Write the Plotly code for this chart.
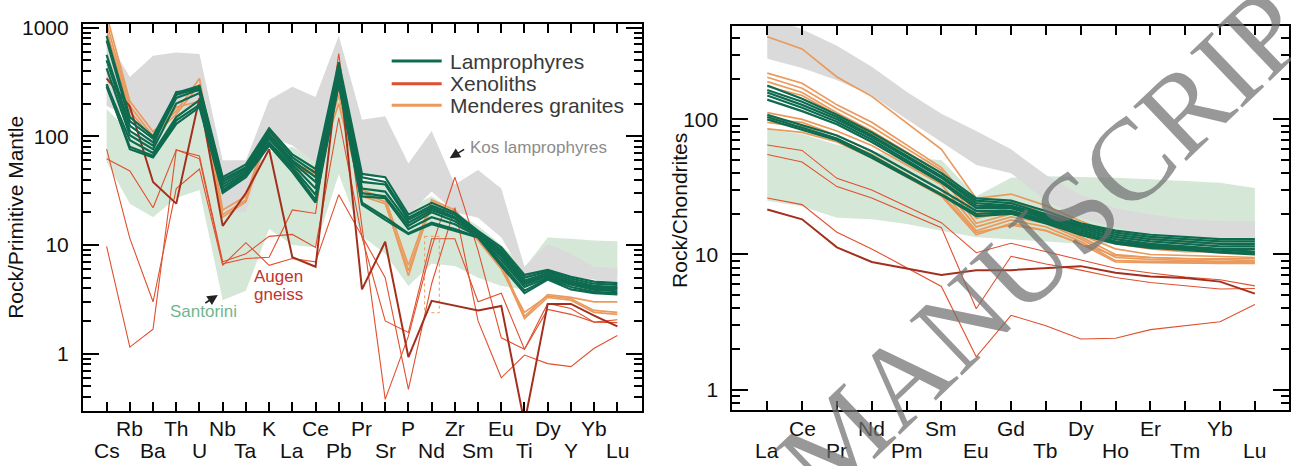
import plotly.graph_objects as go

W, H = 1291, 466

# ---------------------------------------------------------------- elements
SPIDER_ELEMENTS = ["Cs", "Rb", "Ba", "Th", "U", "Nb", "Ta", "K", "La", "Ce", "Pb", "Pr",
                   "Sr", "P", "Nd", "Zr", "Sm", "Eu", "Ti", "Dy", "Y", "Yb", "Lu"]
REE_ELEMENTS = ["La", "Ce", "Pr", "Nd", "Pm", "Sm", "Eu", "Gd", "Tb", "Dy", "Ho", "Er",
                "Tm", "Yb", "Lu"]

# ------------------------------------------- primitive-mantle normalised
KOS_PM_HI = [800, 350, 550, 590, 570, 60, 60, 215, 285, 230, 840, 142, 153, 56, 112, 36, 49, 33, 6.3, 10.2, 8.3, 6.3, 6.1]
KOS_PM_LO = [190, 150, 100, 170, 190, 20, 20, 100, 82, 57, 250, 45, 42, 19, 31, 20, 17.8, 11.7, 5.1, 5.9, 5.1, 4.8, 4.45]
SANT_PM_HI = [177, 110, 95, 190, 180, 30, 42, 70, 80, 60, 250, 40, 36, 22, 28, 20, 15, 10, 6.2, 11.7, 11.4, 11.0, 10.8]
SANT_PM_LO = [58, 24, 18, 27, 32, 3.1, 3.8, 14, 10, 9.5, 45, 12, 8.3, 4.2, 6.7, 6.4, 5.0, 4.2, 3.9, 5.5, 5.5, 5.4, 5.3]

LAMP_PM = [
    [840, 150, 100, 250, 290, 42, 55, 118, 68, 50, 480, 45, 42, 19, 24.4, 19.8, 13.5, 9.5, 5.3, 5.9, 5.1, 4.6, 4.45],
    [760, 138, 95, 240, 280, 40, 52, 112, 64, 46, 440, 42, 38, 17.8, 23, 19, 13.2, 9.0, 5.0, 5.7, 4.9, 4.4, 4.3],
    [560, 125, 88, 225, 270, 38, 50, 105, 60, 42, 400, 38, 36, 17, 22, 18, 12.8, 8.6, 4.7, 5.5, 4.7, 4.2, 4.1],
    [500, 112, 82, 255, 265, 36, 48, 100, 58, 38, 370, 33, 31, 16, 21, 17.5, 12.6, 8.2, 4.5, 5.3, 4.5, 4.1, 4.0],
    [420, 102, 76, 200, 250, 34, 46, 95, 55, 33, 340, 30, 28, 15, 20, 16.5, 12.3, 7.8, 4.3, 5.2, 4.4, 3.95, 3.9],
    [300, 92, 70, 150, 215, 32, 45, 88, 52, 29, 325, 28, 27, 14, 18, 15.5, 12, 7.3, 4.1, 5.0, 4.3, 3.85, 3.75],
    [285, 80, 66, 140, 195, 31, 44, 85, 50, 26, 310, 24.5, 18, 12.8, 16, 14, 11.8, 6.8, 3.8, 4.9, 4.1, 3.7, 3.6],
    [300, 76, 64, 130, 185, 30, 42, 82, 47, 24.5, 300, 23.5, 17, 12.6, 15.5, 13.5, 11.7, 6.4, 3.6, 4.8, 3.9, 3.6, 3.5],
]
GRAN_PM = [
    [1300, 210, 110, 170, 340, 21, 28, 120, 55, 48, 270, 32, 27, 6.5, 26, 21, 12, 6.8, 2.2, 3.5, 3.3, 3.0, 3.0],
    [1100, 190, 100, 160, 300, 19, 26, 115, 52, 46, 240, 30, 25, 5.2, 25, 20, 11.5, 6.3, 2.1, 3.3, 3.1, 2.4, 2.3],
    [950, 170, 95, 185, 210, 18, 25, 110, 50, 45, 200, 28, 24, 5.8, 23, 19, 11, 6.0, 2.4, 3.4, 3.2, 2.5, 2.4],
]
XENO_PM = [
    [9.7, 1.15, 1.68, 75, 62, 6.7, 7.5, 7.7, 21, 19.5, 575, 15, 0.38, 1.45, 9.5, 42, 8.9, 1.4, 1.1, 2.9, 2.6, 1.95, 2.05],
    [76, 11.5, 3.0, 33, 50, 6.5, 10.5, 6.5, 7.5, 7.0, 29, 12, 5.0, 0.47, 4.4, 22, 2.0, 0.6, 0.97, 0.81, 0.76, 1.12, 1.47],
    [62, 48, 22, 75, 66, 7.0, 8.3, 12, 12.5, 9.5, 148, 11.8, 2.0, 1.57, 11.4, 11.4, 3.0, 3.6, 1.1, 2.55, 2.3, 1.95, 1.93],
]
AUGEN_PM = [340, 188, 38, 24, 225, 15, 30, 76, 7.7, 6.3, 450, 3.9, 10.7, 0.93, 3.06, 2.75, 2.5, 2.75, 0.23, 2.87, 2.87, 2.24, 1.78]

# dotted frame around the Nd interval of the granites
NOTE_BOX_X = [13.7, 14.33, 14.33, 13.7, 13.7]
NOTE_BOX_Y = [12.0, 12.0, 2.38, 2.38, 12.0]

# ------------------------------------------------- chondrite normalised
KOS_REE_HI = [580, 465, 350, 245, 160, 110, 82, 60, 38.7, 27.7, 22, 19.8, 18.2, 17.7, 17.7]
KOS_REE_LO = [281, 240, 195, 150, 100, 68, 46, 40, 25, 18.7, 15.8, 14.2, 13.6, 13.4, 13.4]
SANT_REE_HI = [84, 78, 65, 58, 52, 50, 27, 37, 38, 37.5, 37, 36, 35, 34, 31]
SANT_REE_LO = [25, 22.7, 18.7, 18.2, 16.8, 15, 13.4, 13, 12.5, 12, 12, 12, 12, 12, 12]

LAMP_REE = [
    [178, 142, 108, 80, None, 40, 26, 25, 21, 17, 15, 14, 13.5, 13, 13],
    [165, 135, 104, 76, None, 38, 25, 24, 20, 16.5, 14.5, 13.5, 13, 12.5, 12.5],
    [158, 128, 100, 74, None, 37, 24, 23, 19.5, 16, 14, 13, 12.5, 12, 12],
    [150, 122, 96, 71, None, 35, 23, 22.5, 19, 15.5, 13.5, 12.5, 12, 11.5, 11.5],
    [140, 115, 92, 68, None, 34, 22, 22, 18.5, 15, 13, 12, 11.5, 11, 11],
    [108, 90, 76, 58, None, 30, 21, 21, 18, 14.5, 12.5, 11.7, 11.2, 10.8, 10.5],
    [104, 86, 72, 54, None, 28, 20, 20.5, 17.5, 14, 12.2, 11.5, 11, 10.5, 10.2],
    [100, 84, 70, 52, None, 27.5, 19.2, 20, 17, 14, 12, 11.2, 10.8, 10.3, 10],
]
GRAN_REE = [
    [408, 332, 206, 148, None, 60, 26, 28, 23, 17.7, 14, 13, 12.5, 12, 11.5],
    [220, 185, 128, 95, None, 44, 22, 24, 21, 16, 13, 12, 11.5, 11, 10.5],
    [205, 170, 120, 88, None, 42, 20, 22, 20, 15, 12, 11, 10.5, 10.5, 10],
    [190, 158, 112, 82, None, 40, 18.5, 21, 19, 14, 11, 10, 9.8, 9.7, 9.5],
    [175, 150, 108, 78, None, 38, 17, 20, 18, 13.5, 10, 9.5, 9.3, 9.2, 9.0],
    [112, 100, 82, 64, None, 33, 16, 19, 17, 13, 9.5, 9.2, 9.0, 8.9, 8.8],
    [100, 95, 76, 58, None, 30, 15, 18, 16, 12.5, 9.0, 8.9, 8.8, 8.7, 8.7],
    [85, 80, 68, 52, None, 27, 14, 17, 15, 12, 8.8, 8.7, 8.6, 8.6, 8.6],
    [95, 88, 72, 55, None, 28, 14.5, 16.5, 15, 12, 9.8, 9.5, 9.3, 9.3, 9.3],
]
XENO_REE = [
    [64.5, 58.9, 36.6, 30, None, 17.2, 10.3, 12.1, 10.5, 9.2, 7.9, 7.3, 6.8, 6.5, 5.86],
    [54.9, 48.4, 31.8, 26.2, None, 15.8, 3.97, 9.7, 8.5, 7.66, 6.75, 6.2, 5.9, 5.55, 5.6],
    [26.2, 23.4, 14.6, 11, None, 5.8, 1.75, 3.55, 2.97, 2.37, 2.4, 2.78, 2.97, 3.18, 4.26],
]
AUGEN_REE = [21.5, 18.2, 11.3, 8.8, None, 7.05, 7.66, 7.66, 7.9, 8.2, 7.33, 6.86, 6.7, 6.3, 5.13]

# ---------------------------------------------------------------- styling
GREEN = "#0e6b4f"
RED = "#e0502e"
DARKRED = "#a3301d"
ORANGE = "#ea9a5c"
KOS_FILL = "#d9dad9"
SANT_FILL = "#d5e8d7"
FONT = "Liberation Sans"

fig = go.Figure()


def band(xs, hi, lo, color, xa, ya):
    fig.add_trace(go.Scatter(
        x=list(xs) + list(xs)[::-1], y=list(hi) + list(lo)[::-1],
        mode="lines", fill="toself", fillcolor=color, line=dict(width=0),
        hoverinfo="skip", showlegend=False, xaxis=xa, yaxis=ya))


def profile(xs, ys, color, width, xa, ya, dash="solid"):
    fig.add_trace(go.Scatter(
        x=list(xs), y=ys, mode="lines", connectgaps=True,
        line=dict(color=color, width=width, dash=dash),
        showlegend=False, xaxis=xa, yaxis=ya))


xs_pm = list(range(len(SPIDER_ELEMENTS)))
xs_ree = list(range(len(REE_ELEMENTS)))

# left: spider diagram
band(xs_pm, SANT_PM_HI, SANT_PM_LO, SANT_FILL, "x", "y")
band(xs_pm, KOS_PM_HI, KOS_PM_LO, KOS_FILL, "x", "y")
for g in GRAN_PM:
    profile(xs_pm, g, ORANGE, 1.7, "x", "y")
profile(NOTE_BOX_X, NOTE_BOX_Y, ORANGE, 1, "x", "y", dash="dot")
for r in XENO_PM:
    profile(xs_pm, r, RED, 1.1, "x", "y")
profile(xs_pm, AUGEN_PM, DARKRED, 2, "x", "y")
for l in LAMP_PM:
    profile(xs_pm, l, GREEN, 2.2, "x", "y")

# right: REE diagram
band(xs_ree, SANT_REE_HI, SANT_REE_LO, SANT_FILL, "x2", "y2")
band(xs_ree, KOS_REE_HI, KOS_REE_LO, KOS_FILL, "x2", "y2")
for r in XENO_REE:
    profile(xs_ree, r, RED, 1.1, "x2", "y2")
profile(xs_ree, AUGEN_REE, DARKRED, 2, "x2", "y2")
for g in GRAN_REE:
    profile(xs_ree, g, ORANGE, 1.7, "x2", "y2")
for l in LAMP_REE:
    profile(xs_ree, l, GREEN, 2.2, "x2", "y2")


def log_minor(lo_exp, hi_exp):
    vals = []
    for e in range(lo_exp, hi_exp + 1):
        for m in range(2, 10):
            vals.append(m * 10 ** e)
    return vals


def x_axis(domain, rng, n, anchor):
    return dict(domain=domain, range=rng, anchor=anchor, tickmode="array",
                tickvals=list(range(n)), showticklabels=False, ticks="inside",
                ticklen=9, tickwidth=2, tickcolor="black", showline=True,
                linewidth=2, linecolor="black", mirror="ticks", showgrid=False,
                zeroline=False)


def y_axis(domain, rng, vals, minor_vals, anchor):
    return dict(domain=domain, type="log", range=rng, anchor=anchor,
                tickmode="array", tickvals=vals, ticktext=[str(v) for v in vals],
                ticks="inside", ticklen=16, tickwidth=2, tickcolor="black",
                minor=dict(tickmode="array", tickvals=minor_vals, ticks="inside",
                           ticklen=8, tickwidth=1.5, tickcolor="black", showgrid=False),
                showline=True, linewidth=2, linecolor="black", mirror="ticks",
                showgrid=False, zeroline=False, ticklabelstandoff=8,
                tickfont=dict(family=FONT, size=21, color="#111"))


fig.update_layout(
    width=W, height=H, margin=dict(l=0, r=0, t=0, b=0),
    paper_bgcolor="white", plot_bgcolor="white", showlegend=False,
    xaxis=x_axis([83 / W, 642 / W], [-1.02, 23.04], len(SPIDER_ELEMENTS), "y"),
    yaxis=y_axis([(H - 410) / H, (H - 16) / H], [-0.527, 3.035], [1, 10, 100, 1000],
                 [0.3, 0.4, 0.5, 0.6, 0.7, 0.8, 0.9] + log_minor(0, 2), "x"),
    xaxis2=x_axis([733 / W, 1290 / W], [-1.0, 14.98], len(REE_ELEMENTS), "y2"),
    yaxis2=y_axis([(H - 409) / H, (H - 18) / H], [-0.1505, 2.693], [1, 10, 100],
                  [0.8, 0.9] + log_minor(0, 1) + [200, 300, 400], "x2"),
)

ann = []
# two-row element labels under each panel
for xr, elems in (("x", SPIDER_ELEMENTS), ("x2", REE_ELEMENTS)):
    for i, el in enumerate(elems):
        row_y = 428 if i % 2 else 450
        ann.append(dict(x=i, xref=xr, y=1 - row_y / H, yref="paper", text=el,
                        showarrow=False, xanchor="center", yanchor="middle",
                        font=dict(family=FONT, size=21, color="#111")))

# axis titles
ann.append(dict(x=15.5 / W, y=1 - 213 / H, xref="paper", yref="paper",
                text="Rock/Primitive Mantle", textangle=-90, showarrow=False,
                xanchor="center", yanchor="middle",
                font=dict(family=FONT, size=21, color="#111")))
ann.append(dict(x=680 / W, y=1 - 206 / H, xref="paper", yref="paper",
                text="Rock/Chondrites", textangle=-90, showarrow=False,
                xanchor="center", yanchor="middle",
                font=dict(family=FONT, size=21, color="#111")))

# legend
LEGEND = [("Lamprophyres", GREEN, 54), ("Xenoliths", RED, 77), ("Menderes granites", ORANGE, 99)]
shapes = []
for name, col, ly in LEGEND:
    shapes.append(dict(type="line", xref="paper", yref="paper",
                       x0=392 / W, x1=442 / W, y0=1 - ly / H, y1=1 - ly / H,
                       line=dict(color=col, width=3)))
    ann.append(dict(x=448 / W, y=1 - ly / H, xref="paper", yref="paper", text=name,
                    showarrow=False, xanchor="left", yanchor="middle",
                    font=dict(family=FONT, size=21, color="#3a3a3a")))

# field labels and pointers
ann.append(dict(x=468 / W, y=1 - 142 / H, xref="paper", yref="paper",
                text="Kos lamprophyres", showarrow=False, xanchor="left",
                yanchor="middle", font=dict(family=FONT, size=17, color="#8c8c8c")))
ann.append(dict(x=450 / W, y=1 - 153 / H, xref="paper", yref="paper", text="",
                showarrow=True, ax=16, ay=-10, arrowhead=2, arrowsize=1.3,
                arrowwidth=1.6, arrowcolor="#222"))
ann.append(dict(x=168 / W, y=1 - 309 / H, xref="paper", yref="paper",
                text="Santorini", showarrow=False, xanchor="left", yanchor="middle",
                font=dict(family=FONT, size=17, color="#72b68c")))
ann.append(dict(x=218 / W, y=1 - 292 / H, xref="paper", yref="paper", text="",
                showarrow=True, ax=-14, ay=9, arrowhead=2, arrowsize=1.3,
                arrowwidth=1.6, arrowcolor="#222"))
for txt, ty in (("Augen", 273), ("gneiss", 292)):
    ann.append(dict(x=252 / W, y=1 - ty / H, xref="paper", yref="paper", text=txt,
                    showarrow=False, xanchor="left", yanchor="middle",
                    font=dict(family=FONT, size=17, color="#c1352a")))

# diagonal watermark
ann.append(dict(x=1069 / W, y=1 - 216 / H, xref="paper", yref="paper",
                text="MANUSCRIPT", textangle=-43.7, showarrow=False,
                xanchor="center", yanchor="middle",
                font=dict(family="Liberation Serif", size=116, color="rgba(112,112,112,0.72)")))

fig.update_layout(annotations=ann, shapes=shapes)
fig.write_html("out.html")
